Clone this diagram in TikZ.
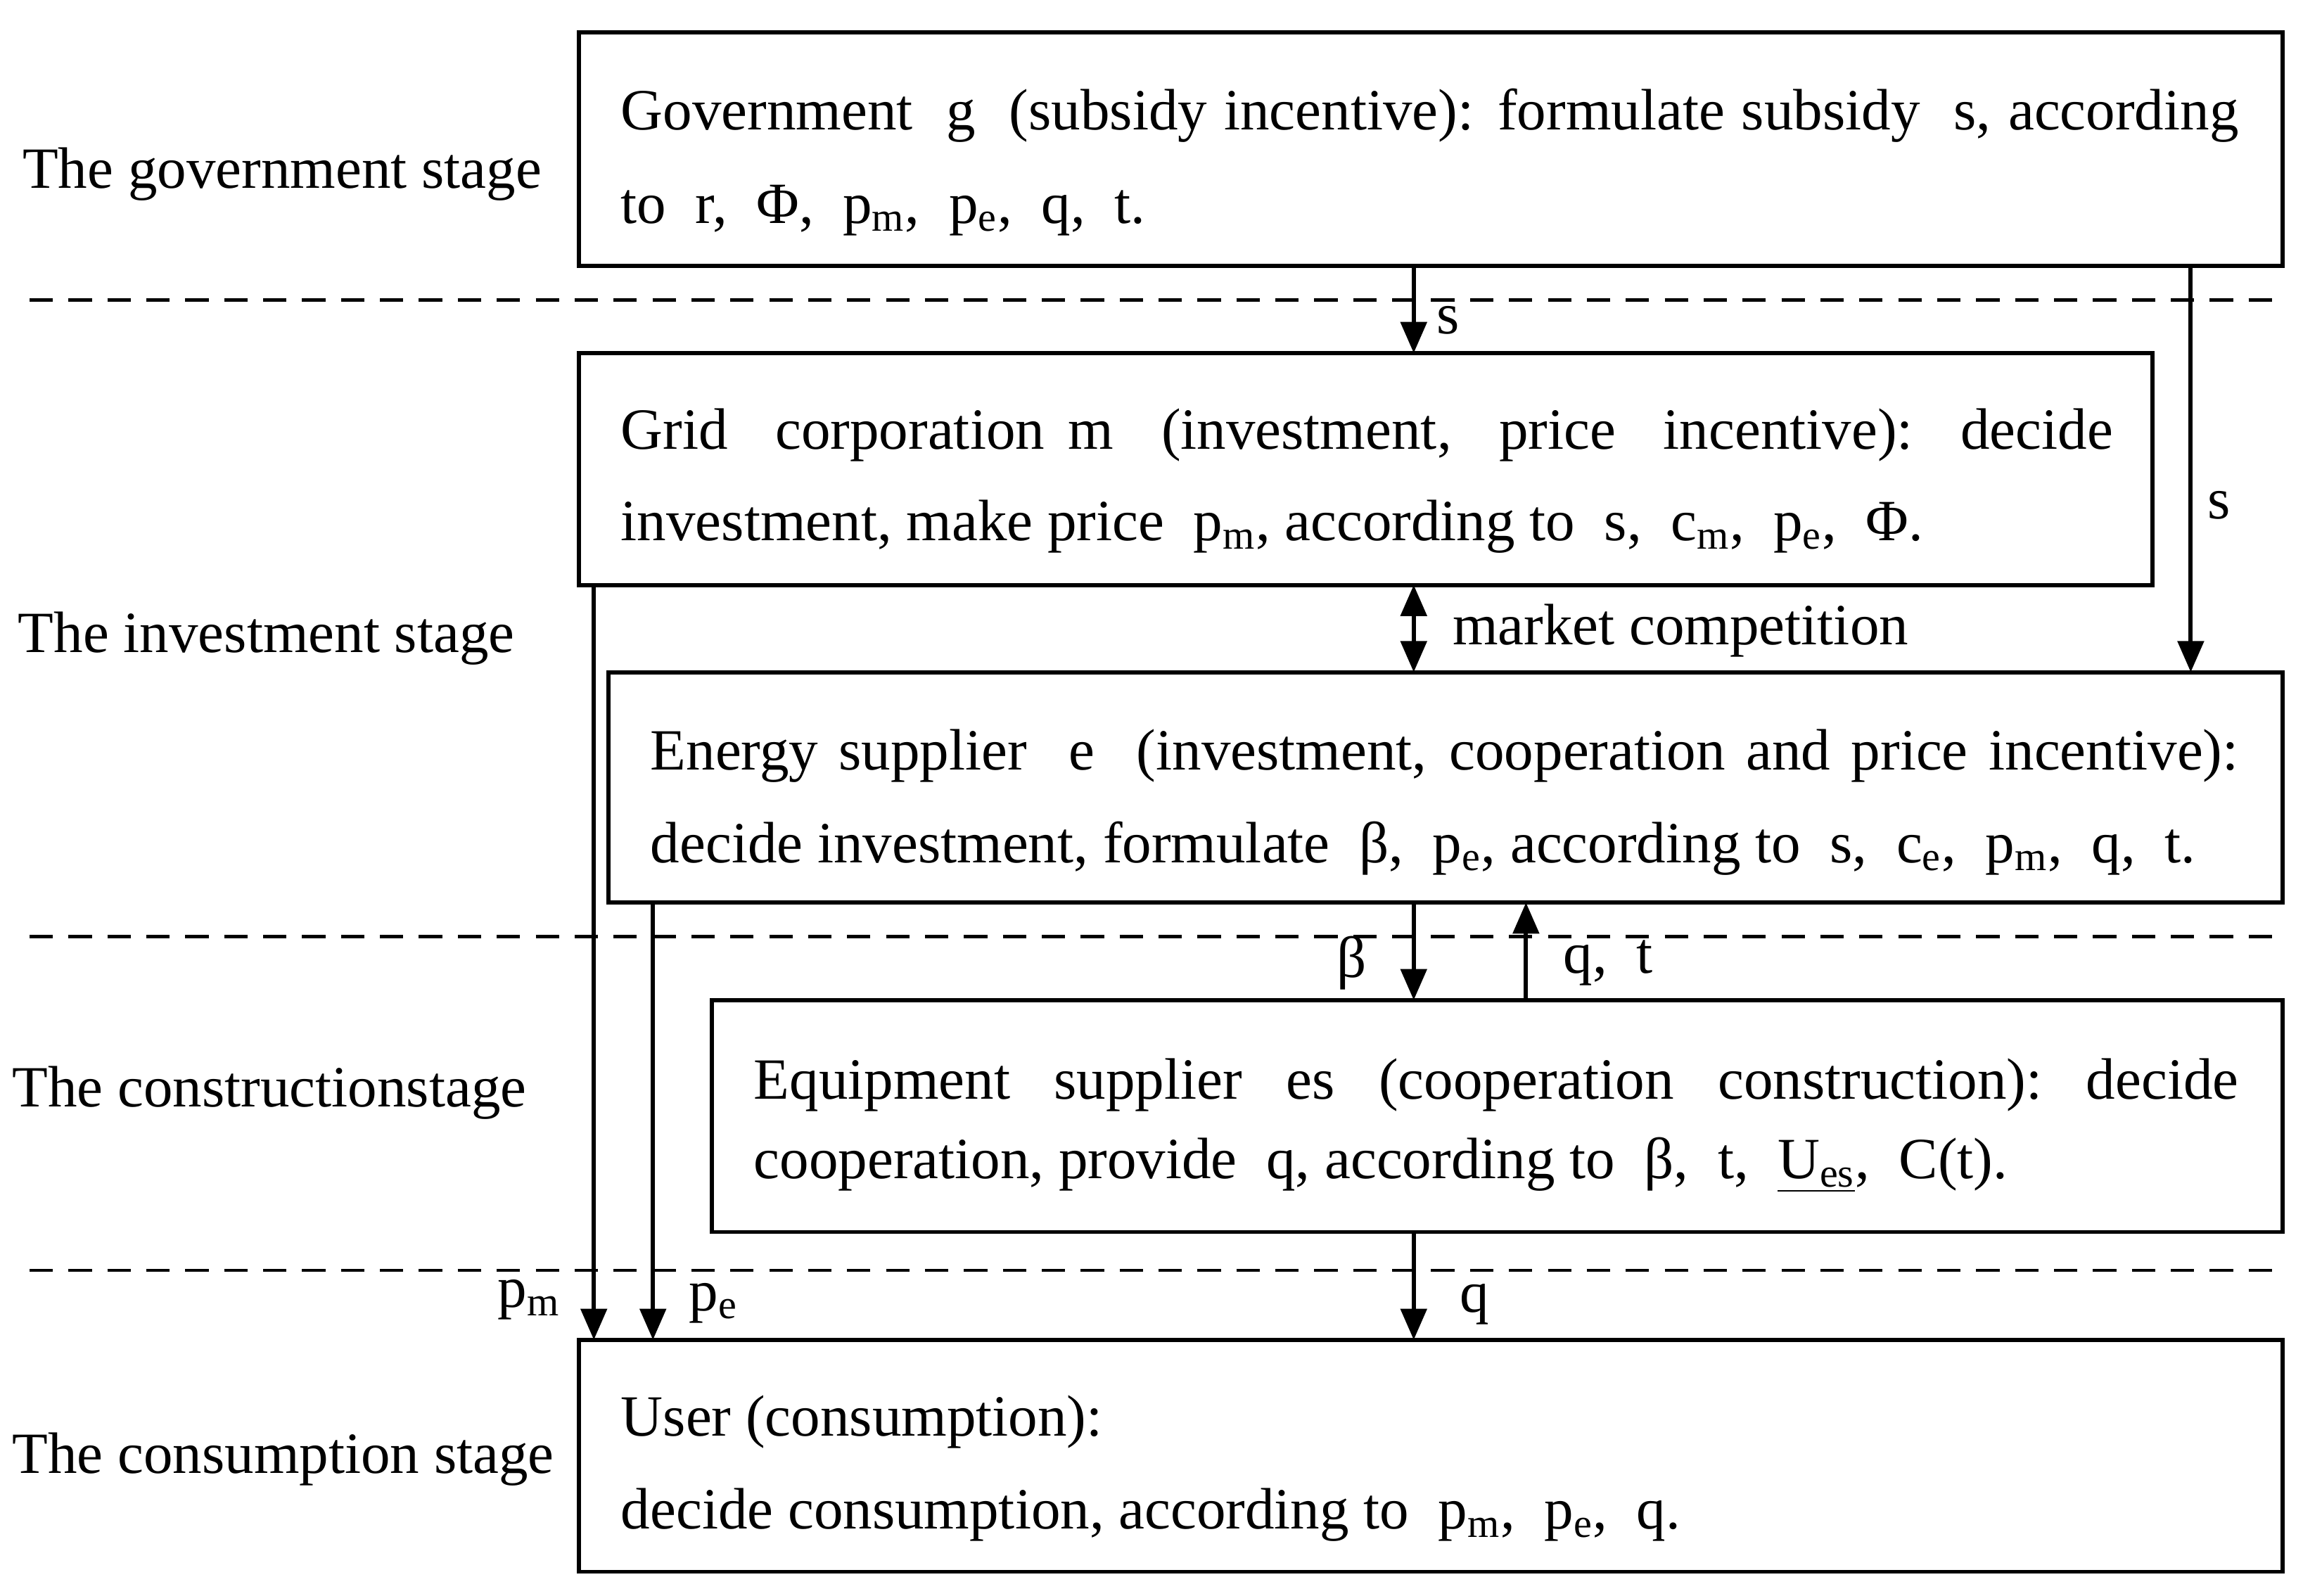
\documentclass[tikz,border=0pt]{standalone}
\usepackage{fontspec}
\setmainfont{Liberation Serif}
\usetikzlibrary{arrows.meta}
\newcommand{\mysb}[2]{#1\textsubscript{#2}}
\newcommand{\jl}[2]{\hbox to #1\dimexpr0.02cm\relax{#2}}
\begin{document}
\begin{tikzpicture}[x=0.02cm,y=-0.02cm,
  box/.style={draw,line width=1.6pt},
  ln/.style={line width=1.6pt,-{Triangle[length=12pt,width=10pt]}},
  dl/.style={dashed,line width=1.2pt,dash pattern=on 9pt off 6pt},
  txt/.style={font=\fontsize{22.5}{35}\selectfont,align=left,inner sep=0pt,anchor=base west},
  lab/.style={font=\fontsize{22.5}{25}\selectfont,inner sep=0pt}]
\useasboundingbox (0,0) rectangle (1559,1080);
\draw[box] (392,22) rectangle (1545,180);
\draw[box] (392,239) rectangle (1457,396);
\draw[box] (412,455) rectangle (1545,611);
\draw[box] (482,677) rectangle (1545,834);
\draw[box] (392,907) rectangle (1545,1064);
\foreach \y in {203,634,860} \draw[dl] (20,\y) -- (1545,\y);
\node[txt] (g1) at (420,88) {\jl{1095}{Government\ \ g\ \ (subsidy incentive): formulate subsidy\ \ s, according}};
\node[txt] (g2) at (420,151) {to\ \ r,\ \ Φ,\ \ \mysb{p}{m},\ \ \mysb{p}{e},\ \ q,\ \ t.};
\node[txt] (m1) at (420,304) {\jl{1010}{Grid\ \ corporation m\ \ (investment,\ \ price\ \ incentive):\ \ decide}};
\node[txt] (m2) at (420,366) {investment, make price\ \ \mysb{p}{m}, according to\ \ s,\ \ \mysb{c}{m},\ \ \mysb{p}{e},\ \ Φ.};
\node[txt] (e1) at (440,521) {\jl{1075}{Energy supplier\ \ e\ \ (investment, cooperation and price incentive):}};
\node[txt] (e2) at (440,584) {decide investment, formulate\ \ β,\ \ \mysb{p}{e}, according to\ \ s,\ \ \mysb{c}{e},\ \ \mysb{p}{m},\ \ q,\ \ t.};
\node[txt] (s1) at (510,744) {\jl{1005}{Equipment\ \ supplier\ \ es\ \ (cooperation\ \ construction):\ \ decide}};
\node[txt] (s2) at (510,798) {cooperation, provide\ \ q, according to\ \ β,\ \ t,\ \ \underline{\mysb{U}{es}},\ \ C(t).};
\node[txt] (u1) at (420,972) {User (consumption):};
\node[txt] (u2) at (420,1035) {decide consumption, according to\ \ \mysb{p}{m},\ \ \mysb{p}{e},\ \ q.};
\node[lab,anchor=west] (l1) at (15,118) {The government stage};
\node[lab,anchor=west] (l2) at (12,432) {The investment stage};
\node[lab,anchor=west] (l3) at (8,740) {The constructionstage};
\node[lab,anchor=west] (l4) at (8,988) {The consumption stage};
\coordinate (a1) at (957,180); \coordinate (a2) at (957,239);
\draw[ln] (a1) -- (a2); \node[lab,anchor=west] at (972,217) {s};
\coordinate (b1) at (1483,180); \coordinate (b2) at (1483,455);
\draw[ln] (b1) -- (b2); \node[lab,anchor=west] at (1494,342) {s};
\coordinate (c1) at (957,396); \coordinate (c2) at (957,455);
\draw[ln,{Triangle[length=12pt,width=10pt]}-{Triangle[length=12pt,width=10pt]}] (c1) -- (c2);
\node[lab,anchor=west] at (983,427) {market competition};
\coordinate (d1) at (957,611); \coordinate (d2) at (957,677);
\draw[ln] (d1) -- (d2); \node[lab] at (915,652) {β};
\coordinate (e1) at (1033,677); \coordinate (e2) at (1033,611);
\draw[ln] (e1) -- (e2); \node[lab,anchor=west] at (1058,652) {q,\ \ t};
\coordinate (f1) at (957,834); \coordinate (f2) at (957,907);
\draw[ln] (f1) -- (f2); \node[lab,anchor=west] at (988,883) {q};
\coordinate (h1) at (402,396); \coordinate (h2) at (402,907);
\draw[ln] (h1) -- (h2); \node[lab] at (358,880) {\mysb{p}{m}};
\coordinate (k1) at (442,611); \coordinate (k2) at (442,907);
\draw[ln] (k1) -- (k2); \node[lab] at (483,882) {\mysb{p}{e}};
\end{tikzpicture}
\end{document}
